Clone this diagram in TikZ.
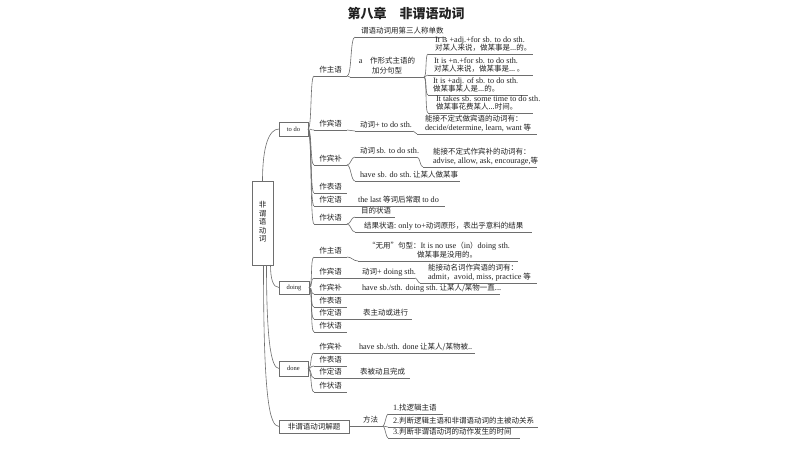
\documentclass[tikz,border=0pt]{standalone}
\usepackage{fontspec}
\setmainfont{Noto Sans CJK SC}
\newfontfamily\enfont{Liberation Serif}
\newcommand\en[1]{{\fontsize{8.2}{8}\enfont #1}}
\newcommand\Ltx[3]{\hbox to #1pt{\hspace*{#2pt}\begin{tabular}[b]{@{}l@{}}#3\end{tabular}\hss}}
\newcommand\Ltxs[3]{\hbox to #1pt{\def\arraystretch{0.88}\hspace*{#2pt}\begin{tabular}[b]{@{}l@{}}#3\end{tabular}\hss}}
\newcommand\Ctx[2]{\hbox to #1pt{\hss\begin{tabular}[b]{@{}c@{}}#2\end{tabular}\hss}}
\definecolor{lc}{HTML}{6E6E6E}
\definecolor{txt}{HTML}{222222}
\tikzset{
  lin/.style={draw=lc, line width=0.6pt},
  basetxt/.style={text=txt, font=\fontsize{7.5}{8}\selectfont},
  ul/.style={basetxt, anchor=south west, inner xsep=0pt, inner ysep=1pt, outer sep=0pt,
    append after command={(\tikzlastnode.south west) edge[lin] (\tikzlastnode.south east)}},
  boxnode/.style={basetxt, draw=lc, line width=0.6pt, inner sep=0pt, outer sep=0pt},
  mm/.style={to path={.. controls +(#1,0) and +(-#1,0) .. (\tikztotarget)}},
  mm/.default=4,
}
\begin{document}
\begin{tikzpicture}[x=1pt,y=-1pt]
\fill[white] (0,0) rectangle (800,450);
\useasboundingbox (0,0) rectangle (800,450);

% title
\node[text=txt, font=\fontsize{13}{14}\selectfont\bfseries] (title) at (406,13) {第八章\quad 非谓语动词};

% root and main boxes
\node[boxnode, minimum width=21pt, minimum height=84pt, font=\fontsize{7.5}{8}\selectfont] (root) at (262.5,223)
  {\begin{tabular}{@{}c@{}}非\\谓\\语\\动\\词\end{tabular}};
\node[boxnode, minimum width=29pt, minimum height=14pt] (todo) at (293.5,129) {\fontsize{6.5}{7}\enfont to do};
\node[boxnode, minimum width=30pt, minimum height=13pt] (doing) at (294,287.5) {\fontsize{6.5}{7}\enfont doing};
\node[boxnode, minimum width=29pt, minimum height=15pt] (done) at (293.5,368.5) {\fontsize{6.5}{7}\enfont done};
\node[boxnode, minimum width=70pt, minimum height=13pt] (jt) at (314,426.5) {非谓语动词解题};

% ---------- to do ----------
\node[ul] (tzhu) at (314,76) {\Ctx{33}{作主语}};
\node[ul] (tbin) at (314,130) {\Ctx{33}{作宾语}};
\node[ul] (tbu) at (314,165) {\Ctx{33}{作宾补}};
\node[ul] (tbiao) at (314,193) {\Ctx{33}{作表语}};
\node[ul] (tding) at (314,206) {\Ctx{33}{作定语}};
\node[ul] (tzhuang) at (314,224) {\Ctx{33}{作状语}};

\node[ul] (z1) at (355,37) {\Ltx{91}{6}{谓语动词用第三人称单数}};
\node[ul] (z2) at (350,77) {\Ctx{74}{\en{a}\quad 作形式主语的\\[1pt]加分句型}};
\node[ul] (c1) at (428,54) {\Ltxs{105}{7}{\en{It is +adj.+for sb. to do sth.}\\对某人来说，做某事是...的。}};
\node[ul] (c2) at (428,75) {\Ltxs{105}{6}{\en{It is +n.+for sb. to do sth.}\\对某人来说，做某事是...\ 。}};
\node[ul] (c3) at (428,95) {\Ltxs{100}{5}{\en{It is +adj. of sb. to do sth.}\\做某事某人是...的。}};
\node[ul] (c4) at (428,113) {\Ltxs{105}{8}{\en{It takes sb. some time to do sth.}\\做某事花费某人...时间。}};

\node[ul] (b1) at (355,131) {\Ltx{58}{5}{动词\en{+ to do sth.}}};
\node[ul] (b2) at (417,134) {\Ltx{120}{8}{能接不定式做宾语的动词有：\\\en{decide/determine, learn, want} 等}};
\node[ul] (bu1) at (355,157) {\Ltx{62}{5}{动词\ \en{sb. to do sth.}}};
\node[ul] (bu3) at (423,167) {\Ltx{114}{10}{能接不定式作宾补的动词有：\\\en{advise, allow, ask, encourage,}等}};
\node[ul] (bu2) at (355,181) {\Ltx{105}{5}{\en{have sb. do sth.}\ 让某人做某事}};
\node[ul] (d1) at (350,206) {\Ltx{95}{8}{\en{the last}\ 等词后常跟\ \en{to do}}};
\node[ul] (s1) at (355,217) {\Ltx{40}{6}{目的状语}};
\node[ul] (s2) at (355,232) {\Ltx{177}{9}{结果状语: \en{only to+}动词原形，表出乎意料的结果}};

% ---------- doing ----------
\node[ul] (gzhu) at (314,257) {\Ctx{33}{作主语}};
\node[ul] (gbin) at (314,278) {\Ctx{33}{作宾语}};
\node[ul] (gbu) at (314,294) {\Ctx{33}{作宾补}};
\node[ul] (gbiao) at (314,307) {\Ctx{33}{作表语}};
\node[ul] (gding) at (314,319) {\Ctx{33}{作定语}};
\node[ul] (gzhuang) at (314,332) {\Ctx{33}{作状语}};

\node[ul] (g1) at (358,261) {\Ltx{160}{10}{“无用”句型：\en{It is no use}（\en{in}）\en{doing sth.}\\\hspace*{49pt}做某事是没用的。}};
\node[ul] (g2) at (355,278) {\Ltx{60}{7}{动词\en{+ doing sth.}}};
\node[ul] (g3) at (420,283) {\Ltx{117}{8}{能接动名词作宾语的词有：\\\en{admit}，\en{avoid, miss, practice} 等}};
\node[ul] (g4) at (352,294) {\Ltx{148}{10}{\en{have sb./sth. doing sth.}\ 让某人/某物一直...}};
\node[ul] (g5) at (352,319) {\Ltx{60}{11}{表主动或进行}};

% ---------- done ----------
\node[ul] (dbu) at (314,353) {\Ctx{33}{作宾补}};
\node[ul] (dbiao) at (314,366) {\Ctx{33}{作表语}};
\node[ul] (dding) at (314,378) {\Ctx{33}{作定语}};
\node[ul] (dzhuang) at (314,392) {\Ctx{33}{作状语}};

\node[ul] (e1) at (352,353) {\Ltx{123}{7}{\en{have sb./sth. done}\ 让某人/某物被..}};
\node[ul] (e2) at (352,378) {\Ltx{58}{8}{表被动且完成}};

% ---------- 解题 ----------
\node[ul] (fa) at (349,426) {\Ltx{34}{14}{方法}};
\node[ul] (j1) at (388,414) {\Ltx{55}{5}{\en{1.}找逻辑主语}};
\node[ul] (j2) at (388,427) {\Ltx{150}{5}{\en{2.}判断逻辑主语和非谓语动词的主被动关系}};
\node[ul] (j3) at (388,438) {\Ltx{132}{5}{\en{3.}判断非谓语动词的动作发生的时间}};

% ---------- connectors ----------
\draw[lin] (root.north) .. controls +(0,-35) and +(-10,0) .. (todo.west);
\draw[lin] ([xshift=8pt]root.south) .. controls +(0,14) and +(-6,0) .. (doing.west);
\draw[lin] ([xshift=4pt]root.south) .. controls +(0,75) and +(-8,0) .. (done.west);
\draw[lin] ([xshift=1pt]root.south) .. controls +(0,130) and +(-10,0) .. (jt.west);

\foreach \n in {tzhu,tbin,tbu,tbiao,tding,tzhuang}
  \draw[lin] (todo.east) to[mm=4] (\n.south west);
\foreach \n in {gzhu,gbin,gbu,gbiao,gding,gzhuang}
  \draw[lin] (doing.east) to[mm=4] (\n.south west);
\foreach \n in {dbu,dbiao,dding,dzhuang}
  \draw[lin] (done.east) to[mm=4] (\n.south west);

\draw[lin] (tzhu.south east) to[mm=5] (z1.south west);
\draw[lin] (tzhu.south east) to[mm=2] (z2.south west);
\foreach \n in {c1,c2,c3,c4}
  \draw[lin] (z2.south east) to[mm=3] (\n.south west);
\draw[lin] (tbin.south east) to[mm=4] (b1.south west);
\draw[lin] (b1.south east) to[mm=2] (b2.south west);
\draw[lin] (tbu.south east) to[mm=4] (bu1.south west);
\draw[lin] (tbu.south east) to[mm=4] (bu2.south west);
\draw[lin] (bu1.south east) to[mm=3] (bu3.south west);
\draw[lin] (tding.south east) -- (d1.south west);
\draw[lin] (tzhuang.south east) to[mm=4] (s1.south west);
\draw[lin] (tzhuang.south east) to[mm=4] (s2.south west);

\draw[lin] (gzhu.south east) to[mm=5] (g1.south west);
\draw[lin] (gbin.south east) -- (g2.south west);
\draw[lin] (g2.south east) to[mm=2] (g3.south west);
\draw[lin] (gbu.south east) -- (g4.south west);
\draw[lin] (gding.south east) -- (g5.south west);

\draw[lin] (dbu.south east) -- (e1.south west);
\draw[lin] (dding.south east) -- (e2.south west);

\draw[lin] (jt.east) -- (fa.south west);
\foreach \n in {j1,j2,j3}
  \draw[lin] (fa.south east) to[mm=2] (\n.south west);
\end{tikzpicture}
\end{document}
